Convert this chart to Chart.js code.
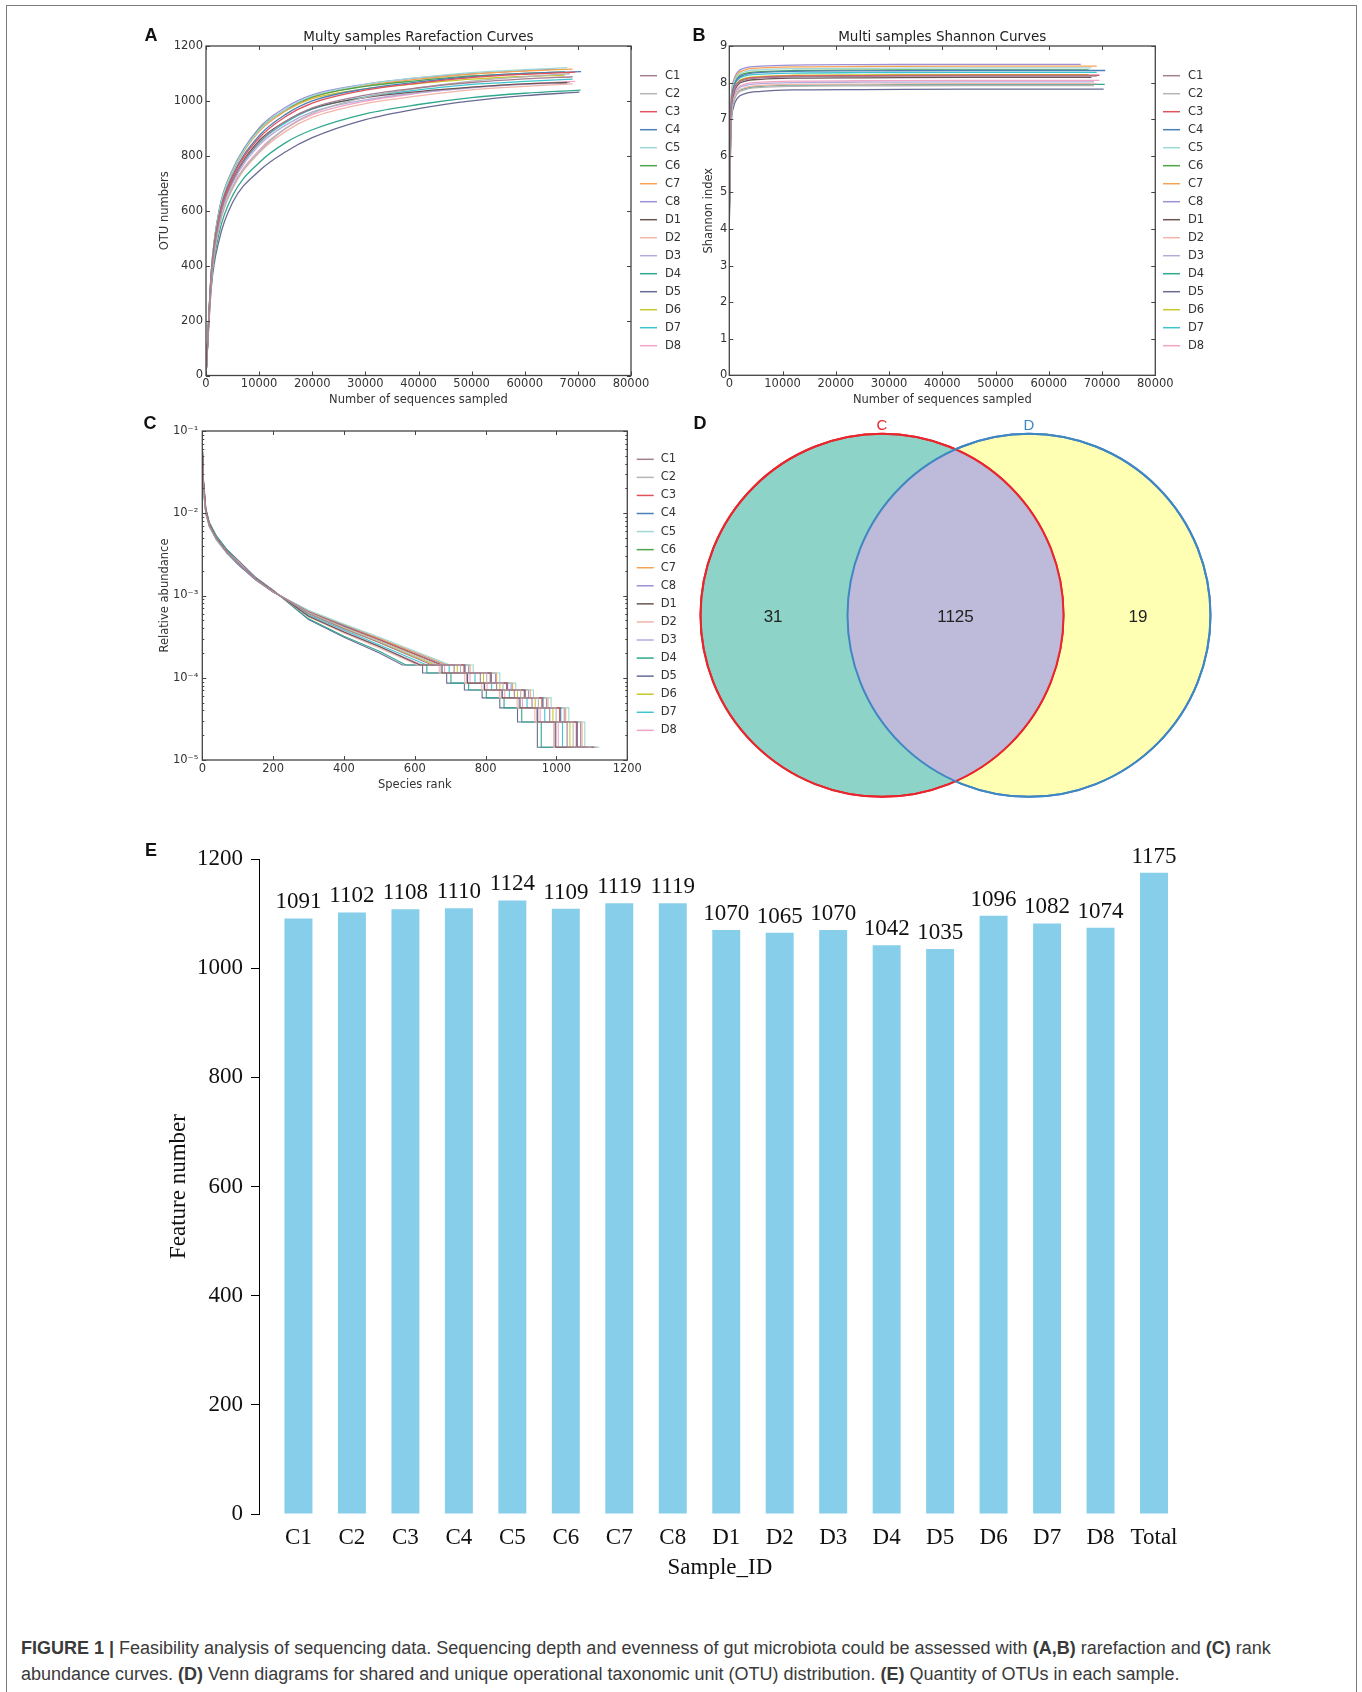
<!DOCTYPE html>
<html>
<head>
<meta charset="utf-8">
<title>Figure 1</title>
<script src="https://cdn.jsdelivr.net/npm/chart.js@4.4.1/dist/chart.umd.min.js"></script>
<style>
  html, body { margin: 0; padding: 0; background: #fff; }
  #page { position: relative; width: 1362px; height: 1692px; overflow: hidden; }
  #frame { position: absolute; left: 6px; top: 5px; width: 1351px; height: 1760px; border: 1.5px solid #7c7c7c; border-bottom: none; box-sizing: border-box; }
  canvas { position: absolute; }
  .tag { position: absolute; transform: translate(-50%, -50%); font: bold 18px "Liberation Sans", Arial, sans-serif; color: #111; line-height: 1; }
  #caption { position: absolute; left: 21px; top: 1635px; font: 18px/26px "Liberation Sans", Arial, sans-serif; color: #3a3a3a; white-space: nowrap; }
</style>
</head>
<body>
<div id="page">
  <div id="frame"></div>
  <canvas id="chartA" width="560" height="395" style="left:140px;top:20px"></canvas>
  <canvas id="chartB" width="520" height="395" style="left:690px;top:20px"></canvas>
  <canvas id="chartC" width="560" height="395" style="left:140px;top:415px"></canvas>
  <canvas id="chartD" width="560" height="400" style="left:690px;top:410px"></canvas>
  <canvas id="chartE" width="1080" height="760" style="left:140px;top:830px"></canvas>
  <div class="tag" style="left:151px;top:35px">A</div>
  <div class="tag" style="left:699px;top:35px">B</div>
  <div class="tag" style="left:150px;top:423px">C</div>
  <div class="tag" style="left:700px;top:423px">D</div>
  <div class="tag" style="left:151px;top:850px">E</div>
  <div id="caption"><b>FIGURE 1 |</b> Feasibility analysis of sequencing data. Sequencing depth and evenness of gut microbiota could be assessed with <b>(A,B)</b> rarefaction and <b>(C)</b> rank<br>abundance curves. <b>(D)</b> Venn diagrams for shared and unique operational taxonomic unit (OTU) distribution. <b>(E)</b> Quantity of OTUs in each sample.</div>
</div>
<script>
const samples = ['C1', 'C2', 'C3', 'C4', 'C5', 'C6', 'C7', 'C8', 'D1', 'D2', 'D3', 'D4', 'D5', 'D6', 'D7', 'D8'];

// A - rarefaction curves: OTU numbers at each sampling depth, last value at the sample's own depth
const rareDepths = [0, 1000, 2500, 5000, 10000, 15000, 20000, 30000, 40000, 50000, 60000];
const rareEndDepth = [69000, 68500, 69500, 70600, 68000, 67500, 69000, 66000, 68000, 69000, 68500, 70500, 70300, 67500, 69000, 69500];
const rareOtu = [
  [0, 359, 568, 708, 849, 926, 975, 1021, 1048, 1067, 1080, 1088],  // C1
  [0, 347, 544, 684, 815, 900, 955, 1013, 1047, 1072, 1088, 1099],  // C2
  [0, 367, 579, 722, 865, 943, 992, 1039, 1065, 1085, 1097, 1105],  // C3
  [0, 370, 585, 728, 873, 951, 1000, 1044, 1069, 1088, 1100, 1107], // C4
  [0, 378, 599, 744, 893, 970, 1018, 1060, 1085, 1103, 1114, 1121], // C5
  [0, 378, 602, 745, 896, 969, 1015, 1053, 1074, 1091, 1100, 1106], // C6
  [0, 375, 595, 740, 888, 964, 1012, 1056, 1079, 1098, 1109, 1116], // C7
  [0, 381, 605, 750, 902, 977, 1022, 1061, 1084, 1099, 1110, 1116], // C8
  [0, 361, 573, 712, 855, 926, 972, 1012, 1034, 1050, 1062, 1067],  // D1
  [0, 344, 543, 679, 811, 889, 940, 990, 1018, 1040, 1053, 1062],   // D2
  [0, 354, 561, 699, 838, 912, 960, 1004, 1030, 1048, 1060, 1067],  // D3
  [0, 335, 520, 655, 775, 848, 895, 953, 987, 1012, 1028, 1039],    // D4
  [0, 320, 495, 630, 745, 815, 866, 932, 972, 1000, 1019, 1032],    // D5
  [0, 376, 599, 742, 893, 964, 1008, 1044, 1063, 1079, 1089, 1093], // D6
  [0, 358, 566, 706, 846, 921, 970, 1015, 1040, 1060, 1071, 1079],  // D7
  [0, 349, 549, 687, 821, 900, 950, 999, 1028, 1049, 1062, 1071]    // D8
];

// B - Shannon curves
const shannonDepths = [10, 300, 800, 1500, 3000, 6000, 12000, 25000, 45000];
const shannonIndex = [
  [4.6, 7.08, 7.73, 7.96, 8.08, 8.13, 8.16, 8.17, 8.18, 8.18], // C1
  [4.4, 6.80, 7.45, 7.69, 7.81, 7.87, 7.90, 7.91, 7.92, 7.92], // C2
  [4.7, 7.12, 7.76, 7.98, 8.10, 8.15, 8.18, 8.19, 8.20, 8.20], // C3
  [4.5, 7.20, 7.87, 8.10, 8.22, 8.28, 8.31, 8.32, 8.33, 8.33], // C4
  [4.8, 7.32, 7.96, 8.18, 8.30, 8.35, 8.38, 8.39, 8.40, 8.40], // C5
  [4.6, 7.25, 7.90, 8.13, 8.25, 8.30, 8.33, 8.34, 8.35, 8.35], // C6
  [4.9, 7.38, 8.00, 8.23, 8.35, 8.40, 8.43, 8.44, 8.45, 8.45], // C7
  [4.9, 7.42, 8.05, 8.28, 8.40, 8.45, 8.48, 8.49, 8.50, 8.50], // C8
  [4.5, 7.02, 7.68, 7.92, 8.04, 8.09, 8.12, 8.13, 8.14, 8.14], // D1
  [4.3, 6.85, 7.50, 7.74, 7.86, 7.92, 7.95, 7.96, 7.97, 7.97], // D2
  [4.4, 6.90, 7.56, 7.80, 7.92, 7.97, 8.00, 8.01, 8.02, 8.02], // D3
  [4.3, 6.82, 7.48, 7.72, 7.84, 7.90, 7.93, 7.94, 7.95, 7.95], // D4
  [4.2, 6.65, 7.33, 7.57, 7.70, 7.76, 7.80, 7.81, 7.82, 7.82], // D5
  [4.6, 7.12, 7.77, 8.00, 8.12, 8.17, 8.20, 8.21, 8.22, 8.22], // D6
  [4.7, 7.18, 7.83, 8.06, 8.18, 8.23, 8.26, 8.27, 8.28, 8.28], // D7
  [4.5, 6.96, 7.61, 7.84, 7.96, 8.01, 8.04, 8.05, 8.06, 8.06]  // D8
];

// C - rank abundance: smooth head, then stepped tail (rank where each abundance level starts, last = final rank)
const rankHeadRanks = [1, 3, 10, 20, 40, 70, 100, 150, 200, 300, 400, 500];
const rankHeadAbund = [
  [0.045, 0.022, 0.0102, 0.0071, 0.0049, 0.0033, 0.0025, 0.0016, 0.00113, 0.0006, 0.000395, 0.000266], // C1
  [0.038, 0.020, 0.0098, 0.0070, 0.0048, 0.0033, 0.0025, 0.00158, 0.00112, 0.00062, 0.00041, 0.00028], // C2
  [0.050, 0.024, 0.0106, 0.0071, 0.0049, 0.0034, 0.0025, 0.00158, 0.00111, 0.00063, 0.00042, 0.00029], // C3
  [0.042, 0.021, 0.0101, 0.0070, 0.0048, 0.0033, 0.0024, 0.00156, 0.0011, 0.00063, 0.00043, 0.00029],  // C4
  [0.035, 0.019, 0.0096, 0.0068, 0.0047, 0.0032, 0.0024, 0.00155, 0.0011, 0.00066, 0.00045, 0.00031],  // C5
  [0.048, 0.023, 0.0104, 0.0072, 0.0049, 0.0033, 0.0025, 0.00157, 0.00111, 0.00063, 0.00042, 0.00029], // C6
  [0.040, 0.020, 0.0099, 0.0069, 0.0048, 0.0033, 0.0024, 0.00156, 0.0011, 0.00065, 0.00044, 0.0003],   // C7
  [0.036, 0.019, 0.0097, 0.0069, 0.0048, 0.0033, 0.0024, 0.00155, 0.0011, 0.00065, 0.00044, 0.0003],   // C8
  [0.055, 0.026, 0.0110, 0.0074, 0.0050, 0.0034, 0.0025, 0.00162, 0.00114, 0.00056, 0.00036, 0.00024], // D1
  [0.044, 0.022, 0.0104, 0.0073, 0.0050, 0.0034, 0.0026, 0.00162, 0.00114, 0.00055, 0.00035, 0.00023], // D2
  [0.046, 0.023, 0.0106, 0.0073, 0.0050, 0.0034, 0.0025, 0.00161, 0.00113, 0.00056, 0.00036, 0.00024], // D3
  [0.052, 0.025, 0.0112, 0.0076, 0.0052, 0.0036, 0.0026, 0.00165, 0.00115, 0.00052, 0.00032, 0.00021], // D4
  [0.058, 0.027, 0.0115, 0.0077, 0.0053, 0.0036, 0.0027, 0.00167, 0.00116, 0.00051, 0.00031, 0.0002],  // D5
  [0.040, 0.021, 0.0100, 0.0070, 0.0048, 0.0033, 0.0025, 0.00158, 0.00112, 0.00061, 0.0004, 0.00027],  // D6
  [0.043, 0.021, 0.0102, 0.0071, 0.0049, 0.0034, 0.0025, 0.0016, 0.00113, 0.00058, 0.00038, 0.00025],  // D7
  [0.047, 0.023, 0.0105, 0.0072, 0.0050, 0.0034, 0.0025, 0.0016, 0.00113, 0.00057, 0.00037, 0.00024]   // D8
];
const rankTailLevels = [1.43e-4, 1.14e-4, 8.6e-5, 7.1e-5, 5.7e-5, 4.3e-5, 2.9e-5, 1.43e-5];
const rankTailStarts = [
  [648, 711, 785, 831, 881, 931, 981, 1030, 1088],  // C1
  [665, 729, 803, 849, 899, 949, 999, 1047, 1099],  // C2
  [675, 739, 813, 859, 909, 959, 1009, 1056, 1105], // C3
  [678, 742, 816, 862, 912, 962, 1012, 1059, 1107], // C4
  [700, 765, 840, 885, 935, 985, 1035, 1080, 1121], // C5
  [676, 740, 815, 860, 910, 960, 1010, 1057, 1106], // C6
  [692, 756, 831, 876, 926, 976, 1026, 1072, 1116], // C7
  [688, 752, 828, 872, 921, 972, 1022, 1068, 1116], // C8
  [615, 677, 749, 797, 847, 897, 947, 998, 1067],   // D1
  [608, 669, 741, 789, 839, 889, 939, 992, 1062],   // D2
  [612, 674, 746, 795, 844, 894, 944, 995, 1067],   // D3
  [575, 634, 702, 752, 802, 852, 902, 957, 1039],   // D4
  [565, 622, 690, 740, 790, 840, 890, 946, 1032],   // D5
  [657, 720, 794, 840, 890, 940, 990, 1038, 1093],  // D6
  [634, 697, 770, 817, 867, 917, 967, 1017, 1079],  // D7
  [622, 684, 756, 804, 854, 904, 954, 1005, 1071]   // D8
];
const rankYTicks = [1e-5, 1e-4, 1e-3, 1e-2, 1e-1];
const rankYLabels = ['10⁻⁵', '10⁻⁴', '10⁻³', '10⁻²', '10⁻¹'];

// D - Venn
const vennSets = ['C', 'D'];
const vennCounts = [31, 1125, 19]; // C only, shared, D only

// E - features per sample
const barCategories = ['C1', 'C2', 'C3', 'C4', 'C5', 'C6', 'C7', 'C8', 'D1', 'D2', 'D3', 'D4', 'D5', 'D6', 'D7', 'D8', 'Total'];
const barValues = [1091, 1102, 1108, 1110, 1124, 1109, 1119, 1119, 1070, 1065, 1070, 1042, 1035, 1096, 1082, 1074, 1175];

// styles
const sampleColors = ['#a47f91', '#b5b5b5', '#e0525c', '#4c7fb8', '#9fd6d6', '#4ea54a', '#f5a253', '#9d8fd8',
                      '#6b5656', '#f2b5aa', '#b3addb', '#2fa88e', '#6a6a95', '#c7c72e', '#3dc5cf', '#f3a3c4'];
const vennFill = ['#8dd3c7', '#ffffb3'];
const vennShared = '#bebada';
const vennStroke = ['#e8262e', '#3f86c2'];
// circle centres and radius in the venn canvas units (1 unit = 1 px)
const vennLayout = { cx: [192, 339], cy: 205.3, r: 181.5 };

const mplFont = { family: 'DejaVu Sans', size: 11.5 };
const serifFont = { family: 'Liberation Serif', size: 23 };

const sideLegend = {
    id: 'sideLegend',
    afterDraw(chart, args, opts) {
        const { ctx } = chart;
        ctx.save();
        ctx.font = '11.5px "DejaVu Sans"';
        ctx.textBaseline = 'middle';
        chart.data.datasets.forEach((ds, i) => {
            const y = opts.top + i * opts.step;
            ctx.strokeStyle = ds.borderColor;
            ctx.lineWidth = 1.5;
            ctx.beginPath();
            ctx.moveTo(opts.x, y);
            ctx.lineTo(opts.x + opts.len, y);
            ctx.stroke();
            ctx.fillStyle = '#333';
            ctx.fillText(ds.label, opts.x + opts.len + opts.gap, y);
        });
        ctx.restore();
    }
};

// box around the plot with small inward ticks on all four sides
const framePlugin = {
    id: 'frame',
    afterDraw(chart, args, opts) {
        const { ctx, chartArea: a } = chart;
        const sx = chart.scales.x, sy = chart.scales.y;
        ctx.save();
        ctx.strokeStyle = '#444';
        ctx.lineWidth = 1;
        ctx.beginPath();
        sx.ticks.forEach(t => {
            const p = Math.round(sx.getPixelForValue(t.value)) + 0.5;
            ctx.moveTo(p, a.bottom); ctx.lineTo(p, a.bottom - 4);
            ctx.moveTo(p, a.top); ctx.lineTo(p, a.top + 4);
        });
        const mark = (v, len) => {
            const p = Math.round(sy.getPixelForValue(v)) + 0.5;
            ctx.moveTo(a.left, p); ctx.lineTo(a.left + len, p);
            ctx.moveTo(a.right, p); ctx.lineTo(a.right - len, p);
        };
        sy.ticks.forEach(t => mark(t.value, 4));
        if (opts.logMinor) {
            for (let e = -5; e < -1; e++) {
                for (let m = 2; m < 10; m++) mark(m * Math.pow(10, e), 2);
            }
        }
        ctx.stroke();
        ctx.lineWidth = 1.3;
        ctx.strokeRect(a.left, a.top, a.right - a.left, a.bottom - a.top);
        ctx.restore();
    }
};

const vennOverlay = {
    id: 'vennOverlay',
    afterDatasetsDraw(chart) {
        const { ctx } = chart;
        const circles = [0, 1].map(i => chart.getDatasetMeta(i).data[0]);
        const [a, b] = circles;
        const ra = a.options.radius, rb = b.options.radius;
        ctx.save();
        ctx.beginPath();
        ctx.arc(a.x, a.y, ra, 0, Math.PI * 2);
        ctx.clip();
        ctx.fillStyle = vennShared;
        ctx.beginPath();
        ctx.arc(b.x, b.y, rb, 0, Math.PI * 2);
        ctx.fill();
        ctx.restore();

        ctx.save();
        circles.forEach((p, i) => {
            const r = p.options.radius;
            ctx.strokeStyle = vennStroke[i];
            ctx.lineWidth = 2;
            ctx.beginPath();
            ctx.arc(p.x, p.y, r, 0, Math.PI * 2);
            ctx.stroke();
            ctx.fillStyle = vennStroke[i];
            ctx.font = '15px "Liberation Sans"';
            ctx.textAlign = 'center';
            ctx.textBaseline = 'alphabetic';
            ctx.fillText(vennSets[i], p.x, p.y - r - 4);
        });
        ctx.font = '17px "Liberation Sans"';
        ctx.fillStyle = '#222';
        ctx.textAlign = 'center';
        ctx.textBaseline = 'middle';
        ctx.fillText(String(vennCounts[0]), a.x - 0.6 * ra, a.y + 2);
        ctx.fillText(String(vennCounts[1]), (a.x + b.x) / 2, a.y + 2);
        ctx.fillText(String(vennCounts[2]), b.x + 0.6 * rb, b.y + 2);
        ctx.restore();
    }
};

const barValueLabels = {
    id: 'barValueLabels',
    afterDatasetsDraw(chart) {
        const { ctx } = chart;
        ctx.save();
        ctx.font = '23px "Liberation Serif"';
        ctx.fillStyle = '#111';
        ctx.textAlign = 'center';
        ctx.textBaseline = 'alphabetic';
        chart.getDatasetMeta(0).data.forEach((bar, i) => {
            ctx.fillText(String(barValues[i]), bar.x, bar.y - 10);
        });
        ctx.restore();
    }
};

const mplAxis = (extra) => Object.assign({
    grid: { display: false, drawTicks: false },
    border: { display: false },
}, extra);

const curveChart = (id, datasets, opt) => new Chart(document.getElementById(id), {
    type: 'line',
    data: { datasets: datasets },
    options: {
        responsive: false,
        animation: false,
        events: [],
        layout: { padding: { top: opt.padTop, right: opt.padRight, bottom: 0, left: 0 } },
        plugins: {
            legend: { display: false },
            tooltip: { enabled: false },
            title: opt.title ? {
                display: true, text: opt.title, fullSize: false, color: '#222',
                font: { family: 'DejaVu Sans', size: 13.5, weight: 'normal' },
                padding: { top: 9, bottom: 0.8 }
            } : { display: false },
            sideLegend: opt.legend,
            frame: { logMinor: opt.logMinor }
        },
        scales: { x: opt.x, y: opt.y }
    },
    plugins: [sideLegend, framePlugin]
});

// A
curveChart('chartA', samples.map((name, s) => ({
    label: name,
    data: rareDepths.concat(rareEndDepth[s]).map((x, j) => ({ x: x, y: rareOtu[s][j] })),
    borderColor: sampleColors[s], borderWidth: 1.3, pointRadius: 0, fill: false,
    cubicInterpolationMode: 'monotone'
})), {
    title: 'Multy samples Rarefaction Curves',
    padTop: 0, padRight: 69,
    legend: { x: 500, top: 55.7, step: 18, len: 17, gap: 8 },
    x: mplAxis({
        type: 'linear', min: 0, max: 80000,
        afterFit: s => { s.height = 39.5; },
        ticks: { stepSize: 10000, padding: 2, color: '#333', font: mplFont, maxRotation: 0, callback: v => String(v) },
        title: { display: true, text: 'Number of sequences sampled', color: '#333', font: mplFont, padding: { top: 0, bottom: 8.1 } }
    }),
    y: mplAxis({
        type: 'linear', min: 0, max: 1200,
        afterFit: s => { s.width = 66; },
        ticks: { stepSize: 200, padding: 3, color: '#333', font: mplFont, callback: v => String(v) },
        title: { display: true, text: 'OTU numbers', color: '#333', font: mplFont, padding: { top: 18.1, bottom: 0 } }
    })
});

// B
curveChart('chartB', samples.map((name, s) => ({
    label: name,
    data: shannonDepths.concat(rareEndDepth[s]).map((x, j) => ({ x: x, y: shannonIndex[s][j] })),
    borderColor: sampleColors[s], borderWidth: 1.3, pointRadius: 0, fill: false,
    cubicInterpolationMode: 'monotone'
})), {
    title: 'Multi samples Shannon Curves',
    padTop: 0, padRight: 54.7,
    legend: { x: 473, top: 55.7, step: 18, len: 17, gap: 8 },
    x: mplAxis({
        type: 'linear', min: 0, max: 80000,
        afterFit: s => { s.height = 39.7; },
        ticks: { stepSize: 10000, padding: 2, color: '#333', font: mplFont, maxRotation: 0, callback: v => String(v) },
        title: { display: true, text: 'Number of sequences sampled', color: '#333', font: mplFont, padding: { top: 0, bottom: 8.1 } }
    }),
    y: mplAxis({
        type: 'linear', min: 0, max: 9,
        afterFit: s => { s.width = 39.3; },
        ticks: { stepSize: 1, padding: 2, color: '#333', font: mplFont },
        title: { display: true, text: 'Shannon index', color: '#333', font: mplFont, padding: { top: 12.1, bottom: 0 } }
    })
});

// C
curveChart('chartC', samples.map((name, s) => {
    const pts = rankHeadRanks.map((r, j) => ({ x: r, y: rankHeadAbund[s][j] }));
    const st = rankTailStarts[s];
    rankTailLevels.forEach((lv, j) => {
        pts.push({ x: st[j], y: lv }, { x: st[j + 1], y: lv });
    });
    return {
        label: name, data: pts,
        borderColor: sampleColors[s], borderWidth: 1.1, pointRadius: 0, fill: false, tension: 0
    };
}), {
    title: null,
    padTop: 16, padRight: 72.7, logMinor: true,
    legend: { x: 496.7, top: 44.3, step: 18.07, len: 17, gap: 7 },
    x: mplAxis({
        type: 'linear', min: 0, max: 1200,
        afterFit: s => { s.height = 50; },
        ticks: { stepSize: 200, padding: 2.4, color: '#333', font: mplFont, maxRotation: 0, callback: v => String(v) },
        title: { display: true, text: 'Species rank', color: '#333', font: mplFont, padding: { top: 0, bottom: 18.1 } }
    }),
    y: mplAxis({
        type: 'logarithmic', min: 1e-5, max: 1e-1,
        afterFit: s => { s.width = 62.3; },
        afterBuildTicks: s => { s.ticks = rankYTicks.map(v => ({ value: v })); },
        ticks: { padding: 4, color: '#333', font: mplFont, callback: (v, i) => rankYLabels[i] },
        title: { display: true, text: 'Relative abundance', color: '#333', font: mplFont, padding: { top: 18.1, bottom: 0 } }
    })
});

// D
new Chart(document.getElementById('chartD'), {
    type: 'bubble',
    data: {
        datasets: vennSets.map((name, i) => ({
            label: name,
            data: [{ x: vennLayout.cx[i], y: vennLayout.cy, r: vennLayout.r }],
            backgroundColor: vennFill[i],
            borderColor: vennStroke[i],
            borderWidth: 2,
            clip: false
        }))
    },
    options: {
        responsive: false,
        animation: false,
        events: [],
        layout: { padding: 0, autoPadding: false },
        plugins: { legend: { display: false }, tooltip: { enabled: false } },
        scales: {
            x: { display: false, min: 0, max: 560 },
            y: { display: false, min: 0, max: 400, reverse: true }
        }
    },
    plugins: [vennOverlay]
});

// E
new Chart(document.getElementById('chartE'), {
    type: 'bar',
    data: {
        datasets: [{
            data: barValues.map((v, i) => ({ x: i, y: v })),
            backgroundColor: '#87ceeb',
            barPercentage: 0.523,
            categoryPercentage: 1
        }]
    },
    options: {
        responsive: false,
        animation: false,
        events: [],
        layout: { padding: { top: 29, right: 39.25, bottom: 0, left: 0 } },
        plugins: { legend: { display: false }, tooltip: { enabled: false } },
        scales: {
            x: {
                type: 'linear', min: -0.738, max: 16.5, offset: false,
                afterBuildTicks: s => { s.ticks = barCategories.map((c, i) => ({ value: i })); },
                afterFit: s => { s.height = 76; },
                grid: { display: false, drawTicks: false },
                border: { display: false },
                ticks: { autoSkip: false, maxRotation: 0, padding: 10.2, color: '#111', font: serifFont, callback: v => barCategories[v] },
                title: { display: true, text: 'Sample_ID', color: '#111', font: serifFont, padding: { top: 0, bottom: 8.2 } }
            },
            y: {
                min: 0, max: 1200,
                afterFit: s => { s.width = 119; },
                grid: { drawOnChartArea: false, drawTicks: true, tickLength: 8, color: '#000' },
                border: { display: true, color: '#000', width: 1 },
                ticks: { stepSize: 200, padding: 8, color: '#111', font: serifFont, callback: v => String(v) },
                title: { display: true, text: 'Feature number', color: '#111', font: serifFont, padding: { top: 25, bottom: 0 } }
            }
        }
    },
    plugins: [barValueLabels]
});
</script>
</body>
</html>
